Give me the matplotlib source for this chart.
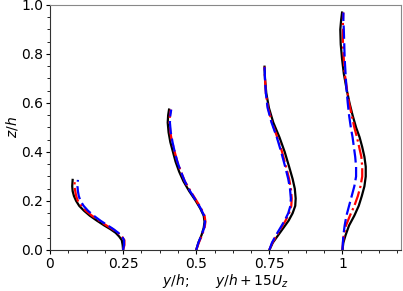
import matplotlib
matplotlib.use("Agg")
import matplotlib.pyplot as plt
from matplotlib.ticker import AutoMinorLocator, FixedLocator, FixedFormatter
import numpy as np

stations = [0.25, 0.5, 0.75, 1.0]
scale = 15

# Station y/h = 0.25
z_1 = [0, 0.02, 0.04, 0.055, 0.07, 0.085, 0.10, 0.12, 0.14, 0.16, 0.18, 0.20, 0.22, 0.24, 0.26, 0.286]
uz_black_1 = [0, -0.0001, -0.0003, -0.0009, -0.0017, -0.0029, -0.0043, -0.0060, -0.0076, -0.0089, -0.0100, -0.0107, -0.0112, -0.0115, -0.0116, -0.0115]
uz_red_1 = [0, 0.0003, 0.0003, -0.0003, -0.0012, -0.0024, -0.0038, -0.0055, -0.0071, -0.0085, -0.0095, -0.0103, -0.0107, -0.0109, -0.0111, -0.0110]
uz_blue_1 = [0, 0.0002, 0.0002, -0.0002, -0.0011, -0.0022, -0.0035, -0.0052, -0.0067, -0.0080, -0.0090, -0.0097, -0.0101, -0.0103, -0.0104, -0.0103]

# Station y/h = 0.5
z_2 = [0, 0.03, 0.06, 0.09, 0.115, 0.14, 0.17, 0.20, 0.24, 0.28, 0.32, 0.36, 0.40, 0.44, 0.48, 0.52, 0.55, 0.573]
uz_black_2 = [0, 0.0005, 0.0012, 0.0017, 0.0019, 0.0017, 0.0009, -0.0001, -0.0016, -0.0029, -0.0039, -0.0047, -0.0053, -0.0059, -0.0063, -0.0065, -0.0064, -0.0062]
uz_red_2 = [0, 0.0006, 0.0013, 0.0019, 0.0021, 0.0019, 0.0011, 0.0001, -0.0013, -0.0026, -0.0035, -0.0043, -0.0049, -0.0055, -0.0059, -0.0061, -0.0060, -0.0058]
uz_blue_2 = [0, 0.0005, 0.0012, 0.0018, 0.0020, 0.0018, 0.0010, 0.0, -0.0014, -0.0026, -0.0035, -0.0043, -0.0049, -0.0054, -0.0058, -0.0060, -0.0059, -0.0057]

# Station y/h = 0.75
z_3 = [0, 0.03, 0.06, 0.09, 0.12, 0.15, 0.18, 0.21, 0.25, 0.29, 0.34, 0.40, 0.46, 0.52, 0.58, 0.64, 0.70, 0.748]
uz_black_3 = [0, 0.0008, 0.0020, 0.0032, 0.0044, 0.0053, 0.0059, 0.0060, 0.0058, 0.0053, 0.0045, 0.0035, 0.0023, 0.0009, -0.0001, -0.0007, -0.0010, -0.0011]
uz_red_3 = [0, 0.0007, 0.0017, 0.0027, 0.0037, 0.0045, 0.0050, 0.0051, 0.0049, 0.0045, 0.0038, 0.0029, 0.0018, 0.0006, -0.0003, -0.0008, -0.0010, -0.0011]
uz_blue_3 = [0, 0.0006, 0.0015, 0.0025, 0.0035, 0.0043, 0.0048, 0.0049, 0.0047, 0.0043, 0.0036, 0.0027, 0.0017, 0.0005, -0.0004, -0.0008, -0.0010, -0.0011]

# Station y/h = 1.0
z_4 = [0, 0.03, 0.06, 0.10, 0.14, 0.18, 0.22, 0.26, 0.30, 0.34, 0.38, 0.42, 0.46, 0.50, 0.55, 0.60, 0.66, 0.72, 0.78, 0.84, 0.90, 0.94, 0.969]
uz_black_4 = [0, 0.0002, 0.0007, 0.0015, 0.0027, 0.0037, 0.0044, 0.0050, 0.0053, 0.0053, 0.0050, 0.0045, 0.0039, 0.0031, 0.0023, 0.0016, 0.0009, 0.0003, -0.0001, -0.0004, -0.0005, -0.0003, -0.0001]
uz_red_4 = [0, 0.0001, 0.0003, 0.0008, 0.0017, 0.0027, 0.0035, 0.0041, 0.0045, 0.0045, 0.0043, 0.0038, 0.0033, 0.0027, 0.0021, 0.0015, 0.0010, 0.0005, 0.0003, 0.0001, 0.0001, 0.0001, 0.0002]
uz_blue_4 = [0, 0.0001, 0.0002, 0.0005, 0.0009, 0.0015, 0.0021, 0.0027, 0.0031, 0.0031, 0.0029, 0.0026, 0.0023, 0.0019, 0.0015, 0.0012, 0.0009, 0.0007, 0.0005, 0.0004, 0.0003, 0.0002, 0.0002]

x_ticks = [0, 0.25, 0.5, 0.75, 1.0]
x_ticklabels = ["0", "0.25", "0.5", "0.75", "1"]

profiles = [
    (z_1, uz_black_1, uz_red_1, uz_blue_1),
    (z_2, uz_black_2, uz_red_2, uz_blue_2),
    (z_3, uz_black_3, uz_red_3, uz_blue_3),
    (z_4, uz_black_4, uz_red_4, uz_blue_4),
]

fig = plt.figure(figsize=(4.03, 2.91), dpi=100)
ax = fig.add_axes([0.124, 0.141, 0.871, 0.842])

lw = 1.6
for st, (z, ub, ur, ubl) in zip(stations, profiles):
    z = np.asarray(z)
    ax.plot(st + scale * np.asarray(ub), z, color="black", lw=lw, solid_joinstyle="round")
    ax.plot(st + scale * np.asarray(ur), z, color="red", lw=lw, linestyle="-.")
    ax.plot(st + scale * np.asarray(ubl), z, color="blue", lw=lw, linestyle=(0, (6, 2)))

ax.set_xlim(0, 1.2)
ax.set_ylim(0, 1.0)
ax.xaxis.set_major_locator(FixedLocator(x_ticks))
ax.xaxis.set_major_formatter(FixedFormatter(x_ticklabels))
ax.xaxis.set_minor_locator(AutoMinorLocator(4))
ax.set_yticks(np.arange(0, 1.01, 0.2))
ax.yaxis.set_minor_locator(AutoMinorLocator(4))
ax.tick_params(labelsize=10, length=3, pad=2)
ax.tick_params(which="minor", length=2)
ax.set_xlabel(r"$y/h$;      $y/h + 15U_z$", fontsize=10, labelpad=1)
ax.set_ylabel(r"$z/h$", fontsize=10, labelpad=1)
for s in ["top", "right"]:
    ax.spines[s].set_color("#888888")
for s in ["left", "bottom"]:
    ax.spines[s].set_color("#333333")

fig.savefig("out.png", dpi=100)
